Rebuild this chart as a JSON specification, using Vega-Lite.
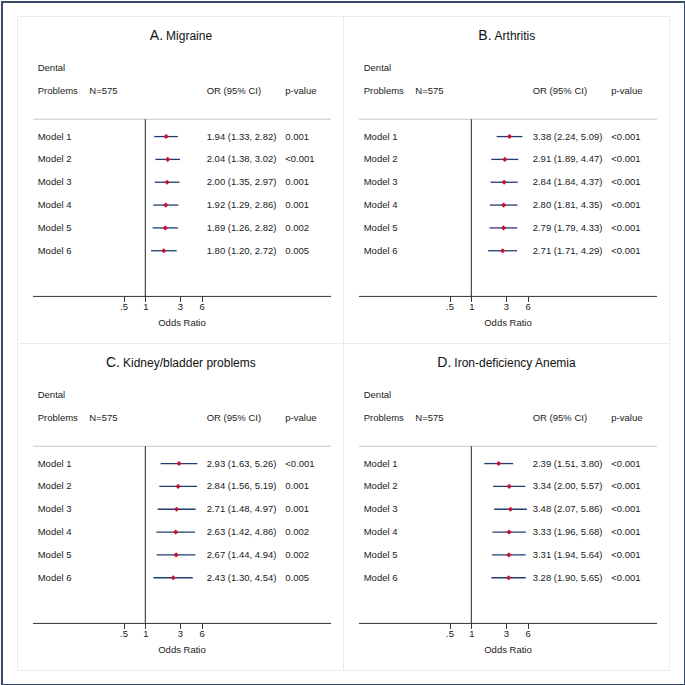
{
  "$schema": "https://vega.github.io/schema/vega-lite/v6.json",
  "padding": 0,
  "background": "white",
  "config": {
    "view": {"stroke": "#e2eef0", "strokeWidth": 1},
    "font": "Liberation Sans"
  },
  "datasets": {
    "hdr": [{"h1": "Dental", "h2": "Problems", "n": "N=575", "or": "OR (95% CI)", "p": "p-value"}],
    "A": [
      {"model": "Model 1", "row": 1, "or": 1.94, "lo": 1.33, "hi": 2.82, "ci": "1.94 (1.33, 2.82)", "p": "0.001"},
      {"model": "Model 2", "row": 2, "or": 2.04, "lo": 1.38, "hi": 3.02, "ci": "2.04 (1.38, 3.02)", "p": "<0.001"},
      {"model": "Model 3", "row": 3, "or": 2.00, "lo": 1.35, "hi": 2.97, "ci": "2.00 (1.35, 2.97)", "p": "0.001"},
      {"model": "Model 4", "row": 4, "or": 1.92, "lo": 1.29, "hi": 2.86, "ci": "1.92 (1.29, 2.86)", "p": "0.001"},
      {"model": "Model 5", "row": 5, "or": 1.89, "lo": 1.26, "hi": 2.82, "ci": "1.89 (1.26, 2.82)", "p": "0.002"},
      {"model": "Model 6", "row": 6, "or": 1.80, "lo": 1.20, "hi": 2.72, "ci": "1.80 (1.20, 2.72)", "p": "0.005"}
    ],
    "B": [
      {"model": "Model 1", "row": 1, "or": 3.38, "lo": 2.24, "hi": 5.09, "ci": "3.38 (2.24, 5.09)", "p": "<0.001"},
      {"model": "Model 2", "row": 2, "or": 2.91, "lo": 1.89, "hi": 4.47, "ci": "2.91 (1.89, 4.47)", "p": "<0.001"},
      {"model": "Model 3", "row": 3, "or": 2.84, "lo": 1.84, "hi": 4.37, "ci": "2.84 (1.84, 4.37)", "p": "<0.001"},
      {"model": "Model 4", "row": 4, "or": 2.80, "lo": 1.81, "hi": 4.35, "ci": "2.80 (1.81, 4.35)", "p": "<0.001"},
      {"model": "Model 5", "row": 5, "or": 2.79, "lo": 1.79, "hi": 4.33, "ci": "2.79 (1.79, 4.33)", "p": "<0.001"},
      {"model": "Model 6", "row": 6, "or": 2.71, "lo": 1.71, "hi": 4.29, "ci": "2.71 (1.71, 4.29)", "p": "<0.001"}
    ],
    "C": [
      {"model": "Model 1", "row": 1, "or": 2.93, "lo": 1.63, "hi": 5.26, "ci": "2.93 (1.63, 5.26)", "p": "<0.001"},
      {"model": "Model 2", "row": 2, "or": 2.84, "lo": 1.56, "hi": 5.19, "ci": "2.84 (1.56, 5.19)", "p": "0.001"},
      {"model": "Model 3", "row": 3, "or": 2.71, "lo": 1.48, "hi": 4.97, "ci": "2.71 (1.48, 4.97)", "p": "0.001"},
      {"model": "Model 4", "row": 4, "or": 2.63, "lo": 1.42, "hi": 4.86, "ci": "2.63 (1.42, 4.86)", "p": "0.002"},
      {"model": "Model 5", "row": 5, "or": 2.67, "lo": 1.44, "hi": 4.94, "ci": "2.67 (1.44, 4.94)", "p": "0.002"},
      {"model": "Model 6", "row": 6, "or": 2.43, "lo": 1.30, "hi": 4.54, "ci": "2.43 (1.30, 4.54)", "p": "0.005"}
    ],
    "D": [
      {"model": "Model 1", "row": 1, "or": 2.39, "lo": 1.51, "hi": 3.80, "ci": "2.39 (1.51, 3.80)", "p": "<0.001"},
      {"model": "Model 2", "row": 2, "or": 3.34, "lo": 2.00, "hi": 5.57, "ci": "3.34 (2.00, 5.57)", "p": "<0.001"},
      {"model": "Model 3", "row": 3, "or": 3.48, "lo": 2.07, "hi": 5.86, "ci": "3.48 (2.07, 5.86)", "p": "<0.001"},
      {"model": "Model 4", "row": 4, "or": 3.33, "lo": 1.96, "hi": 5.68, "ci": "3.33 (1.96, 5.68)", "p": "<0.001"},
      {"model": "Model 5", "row": 5, "or": 3.31, "lo": 1.94, "hi": 5.64, "ci": "3.31 (1.94, 5.64)", "p": "<0.001"},
      {"model": "Model 6", "row": 6, "or": 3.28, "lo": 1.90, "hi": 5.65, "ci": "3.28 (1.90, 5.65)", "p": "<0.001"}
    ]
  },
  "columns": 2,
  "spacing": 0,
  "bounds": "flush",
  "concat": [
    {
      "width": 326, "height": 327,
      "data": {"name": "A"},
      "layer": [
        {"mark": {"type": "rule", "color": "#1f3d6e", "strokeWidth": 1.3},
         "encoding": {
           "x": {"field": "lo", "type": "quantitative", "scale": {"type": "log", "domain": [0.01681, 542], "nice": false},
                 "axis": {"values": [0.5, 1, 3, 6], "labelExpr": "datum.value < 1 ? '.5' : format(datum.value, 'd')", "domain": false, "grid": false, "tickSize": 5, "tickColor": "#333", "labelFontSize": 9.5, "labelColor": "#1a1a1a", "labelPadding": 0.5, "title": "Odds Ratio", "titleFontSize": 9.5, "titleFontWeight": "normal", "titleColor": "#1a1a1a", "titlePadding": 6.5, "offset": -46.6, "labelFlush": false, "labelOverlap": false, "titleX": 164.5}},
           "x2": {"field": "hi"},
           "y": {"field": "row", "type": "quantitative", "scale": {"domain": [-4.28, 10.04], "reverse": true, "nice": false, "zero": false}, "axis": null}
         }},
        {"mark": {"type": "point", "shape": "diamond", "filled": true, "color": "#c8102e", "size": 26, "opacity": 1},
         "encoding": {"x": {"field": "or", "type": "quantitative"}, "y": {"field": "row", "type": "quantitative", "axis": null}}},
        {"mark": {"type": "text", "align": "left", "baseline": "middle", "fontSize": 9.5, "color": "#1a1a1a"},
         "encoding": {"x": {"datum": 0.0325}, "y": {"field": "row", "type": "quantitative", "axis": null}, "text": {"field": "model"}}},
        {"mark": {"type": "text", "align": "left", "baseline": "middle", "fontSize": 9.5, "color": "#1a1a1a"},
         "encoding": {"x": {"datum": 7.064}, "y": {"field": "row", "type": "quantitative", "axis": null}, "text": {"field": "ci"}}},
        {"mark": {"type": "text", "align": "left", "baseline": "middle", "fontSize": 9.5, "color": "#1a1a1a"},
         "encoding": {"x": {"datum": 86.31}, "y": {"field": "row", "type": "quantitative", "axis": null}, "text": {"field": "p"}}},
        {"data": {"name": "hdr"},
         "layer": [
           {"mark": {"type": "text", "align": "left", "baseline": "middle", "fontSize": 9.5, "color": "#1a1a1a"},
            "encoding": {"x": {"datum": 0.0325}, "y": {"datum": -2, "axis": null}, "text": {"field": "h1"}}},
           {"mark": {"type": "text", "align": "left", "baseline": "middle", "fontSize": 9.5, "color": "#1a1a1a"},
            "encoding": {"x": {"datum": 0.0325}, "y": {"datum": -1, "axis": null}, "text": {"field": "h2"}}},
           {"mark": {"type": "text", "align": "left", "baseline": "middle", "fontSize": 9.5, "color": "#1a1a1a"},
            "encoding": {"x": {"datum": 0.168}, "y": {"datum": -1, "axis": null}, "text": {"field": "n"}}},
           {"mark": {"type": "text", "align": "left", "baseline": "middle", "fontSize": 9.5, "color": "#1a1a1a"},
            "encoding": {"x": {"datum": 7.064}, "y": {"datum": -1, "axis": null}, "text": {"field": "or"}}},
           {"mark": {"type": "text", "align": "left", "baseline": "middle", "fontSize": 9.5, "color": "#1a1a1a"},
            "encoding": {"x": {"datum": 86.31}, "y": {"datum": -1, "axis": null}, "text": {"field": "p"}}},
           {"mark": {"type": "rule", "color": "#c8c8c8", "strokeWidth": 1},
            "encoding": {"x": {"datum": 0.02799}, "x2": {"datum": 369.9}, "y": {"datum": 0.24, "axis": null}}},
           {"mark": {"type": "rule", "color": "#333", "strokeWidth": 1},
            "encoding": {"x": {"datum": 0.02799}, "x2": {"datum": 369.9}, "y": {"datum": 8, "axis": null}}},
           {"mark": {"type": "rule", "color": "#222", "strokeWidth": 1},
            "encoding": {"x": {"datum": 1}, "y": {"datum": 0.24, "axis": null}, "y2": {"datum": 8}}},
           {"mark": {"type": "rect", "filled": false, "stroke": "#3b4a68", "strokeWidth": 2, "fill": "transparent"},
            "encoding": {"x": {"datum": 0.01042}, "x2": {"datum": 29088000}, "y": {"datum": -4.893, "axis": null}, "y2": {"datum": 25.02}}}
         ]},
        {"data": {"values": [{"letter": "A.", "name": "Migraine"}]},
         "layer": [
           {"mark": {"type": "text", "align": "right", "baseline": "alphabetic", "fontSize": 14, "color": "#111", "dx": -17.9},
            "encoding": {"x": {"datum": 3.116}, "y": {"datum": -3.25, "axis": null}, "text": {"field": "letter"}}},
           {"mark": {"type": "text", "align": "left", "baseline": "alphabetic", "fontSize": 12, "color": "#111", "dx": -14.9},
            "encoding": {"x": {"datum": 3.116}, "y": {"datum": -3.25, "axis": null}, "text": {"field": "name"}}}
         ]}
      ]
    },
    {
      "width": 326, "height": 327,
      "data": {"name": "B"},
      "layer": [
        {"mark": {"type": "rule", "color": "#1f3d6e", "strokeWidth": 1.3},
         "encoding": {
           "x": {"field": "lo", "type": "quantitative", "scale": {"type": "log", "domain": [0.01681, 542], "nice": false},
                 "axis": {"values": [0.5, 1, 3, 6], "labelExpr": "datum.value < 1 ? '.5' : format(datum.value, 'd')", "domain": false, "grid": false, "tickSize": 5, "tickColor": "#333", "labelFontSize": 9.5, "labelColor": "#1a1a1a", "labelPadding": 0.5, "title": "Odds Ratio", "titleFontSize": 9.5, "titleFontWeight": "normal", "titleColor": "#1a1a1a", "titlePadding": 6.5, "offset": -46.6, "labelFlush": false, "labelOverlap": false, "titleX": 164.5}},
           "x2": {"field": "hi"},
           "y": {"field": "row", "type": "quantitative", "scale": {"domain": [-4.28, 10.04], "reverse": true, "nice": false, "zero": false}, "axis": null}
         }},
        {"mark": {"type": "point", "shape": "diamond", "filled": true, "color": "#c8102e", "size": 26, "opacity": 1},
         "encoding": {"x": {"field": "or", "type": "quantitative"}, "y": {"field": "row", "type": "quantitative", "axis": null}}},
        {"mark": {"type": "text", "align": "left", "baseline": "middle", "fontSize": 9.5, "color": "#1a1a1a"},
         "encoding": {"x": {"datum": 0.0325}, "y": {"field": "row", "type": "quantitative", "axis": null}, "text": {"field": "model"}}},
        {"mark": {"type": "text", "align": "left", "baseline": "middle", "fontSize": 9.5, "color": "#1a1a1a"},
         "encoding": {"x": {"datum": 7.064}, "y": {"field": "row", "type": "quantitative", "axis": null}, "text": {"field": "ci"}}},
        {"mark": {"type": "text", "align": "left", "baseline": "middle", "fontSize": 9.5, "color": "#1a1a1a"},
         "encoding": {"x": {"datum": 86.31}, "y": {"field": "row", "type": "quantitative", "axis": null}, "text": {"field": "p"}}},
        {"data": {"name": "hdr"},
         "layer": [
           {"mark": {"type": "text", "align": "left", "baseline": "middle", "fontSize": 9.5, "color": "#1a1a1a"},
            "encoding": {"x": {"datum": 0.0325}, "y": {"datum": -2, "axis": null}, "text": {"field": "h1"}}},
           {"mark": {"type": "text", "align": "left", "baseline": "middle", "fontSize": 9.5, "color": "#1a1a1a"},
            "encoding": {"x": {"datum": 0.0325}, "y": {"datum": -1, "axis": null}, "text": {"field": "h2"}}},
           {"mark": {"type": "text", "align": "left", "baseline": "middle", "fontSize": 9.5, "color": "#1a1a1a"},
            "encoding": {"x": {"datum": 0.168}, "y": {"datum": -1, "axis": null}, "text": {"field": "n"}}},
           {"mark": {"type": "text", "align": "left", "baseline": "middle", "fontSize": 9.5, "color": "#1a1a1a"},
            "encoding": {"x": {"datum": 7.064}, "y": {"datum": -1, "axis": null}, "text": {"field": "or"}}},
           {"mark": {"type": "text", "align": "left", "baseline": "middle", "fontSize": 9.5, "color": "#1a1a1a"},
            "encoding": {"x": {"datum": 86.31}, "y": {"datum": -1, "axis": null}, "text": {"field": "p"}}},
           {"mark": {"type": "rule", "color": "#c8c8c8", "strokeWidth": 1},
            "encoding": {"x": {"datum": 0.02799}, "x2": {"datum": 369.9}, "y": {"datum": 0.24, "axis": null}}},
           {"mark": {"type": "rule", "color": "#333", "strokeWidth": 1},
            "encoding": {"x": {"datum": 0.02799}, "x2": {"datum": 369.9}, "y": {"datum": 8, "axis": null}}},
           {"mark": {"type": "rule", "color": "#222", "strokeWidth": 1},
            "encoding": {"x": {"datum": 1}, "y": {"datum": 0.24, "axis": null}, "y2": {"datum": 8}}}
         ]},
        {"data": {"values": [{"letter": "B.", "name": "Arthritis"}]},
         "layer": [
           {"mark": {"type": "text", "align": "right", "baseline": "alphabetic", "fontSize": 14, "color": "#111", "dx": -15.4},
            "encoding": {"x": {"datum": 3.116}, "y": {"datum": -3.25, "axis": null}, "text": {"field": "letter"}}},
           {"mark": {"type": "text", "align": "left", "baseline": "alphabetic", "fontSize": 12, "color": "#111", "dx": -12.4},
            "encoding": {"x": {"datum": 3.116}, "y": {"datum": -3.25, "axis": null}, "text": {"field": "name"}}}
         ]}
      ]
    },
    {
      "width": 326, "height": 327,
      "data": {"name": "C"},
      "layer": [
        {"mark": {"type": "rule", "color": "#1f3d6e", "strokeWidth": 1.3},
         "encoding": {
           "x": {"field": "lo", "type": "quantitative", "scale": {"type": "log", "domain": [0.01681, 542], "nice": false},
                 "axis": {"values": [0.5, 1, 3, 6], "labelExpr": "datum.value < 1 ? '.5' : format(datum.value, 'd')", "domain": false, "grid": false, "tickSize": 5, "tickColor": "#333", "labelFontSize": 9.5, "labelColor": "#1a1a1a", "labelPadding": 0.5, "title": "Odds Ratio", "titleFontSize": 9.5, "titleFontWeight": "normal", "titleColor": "#1a1a1a", "titlePadding": 6.5, "offset": -46.6, "labelFlush": false, "labelOverlap": false, "titleX": 164.5}},
           "x2": {"field": "hi"},
           "y": {"field": "row", "type": "quantitative", "scale": {"domain": [-4.28, 10.04], "reverse": true, "nice": false, "zero": false}, "axis": null}
         }},
        {"mark": {"type": "point", "shape": "diamond", "filled": true, "color": "#c8102e", "size": 26, "opacity": 1},
         "encoding": {"x": {"field": "or", "type": "quantitative"}, "y": {"field": "row", "type": "quantitative", "axis": null}}},
        {"mark": {"type": "text", "align": "left", "baseline": "middle", "fontSize": 9.5, "color": "#1a1a1a"},
         "encoding": {"x": {"datum": 0.0325}, "y": {"field": "row", "type": "quantitative", "axis": null}, "text": {"field": "model"}}},
        {"mark": {"type": "text", "align": "left", "baseline": "middle", "fontSize": 9.5, "color": "#1a1a1a"},
         "encoding": {"x": {"datum": 7.064}, "y": {"field": "row", "type": "quantitative", "axis": null}, "text": {"field": "ci"}}},
        {"mark": {"type": "text", "align": "left", "baseline": "middle", "fontSize": 9.5, "color": "#1a1a1a"},
         "encoding": {"x": {"datum": 86.31}, "y": {"field": "row", "type": "quantitative", "axis": null}, "text": {"field": "p"}}},
        {"data": {"name": "hdr"},
         "layer": [
           {"mark": {"type": "text", "align": "left", "baseline": "middle", "fontSize": 9.5, "color": "#1a1a1a"},
            "encoding": {"x": {"datum": 0.0325}, "y": {"datum": -2, "axis": null}, "text": {"field": "h1"}}},
           {"mark": {"type": "text", "align": "left", "baseline": "middle", "fontSize": 9.5, "color": "#1a1a1a"},
            "encoding": {"x": {"datum": 0.0325}, "y": {"datum": -1, "axis": null}, "text": {"field": "h2"}}},
           {"mark": {"type": "text", "align": "left", "baseline": "middle", "fontSize": 9.5, "color": "#1a1a1a"},
            "encoding": {"x": {"datum": 0.168}, "y": {"datum": -1, "axis": null}, "text": {"field": "n"}}},
           {"mark": {"type": "text", "align": "left", "baseline": "middle", "fontSize": 9.5, "color": "#1a1a1a"},
            "encoding": {"x": {"datum": 7.064}, "y": {"datum": -1, "axis": null}, "text": {"field": "or"}}},
           {"mark": {"type": "text", "align": "left", "baseline": "middle", "fontSize": 9.5, "color": "#1a1a1a"},
            "encoding": {"x": {"datum": 86.31}, "y": {"datum": -1, "axis": null}, "text": {"field": "p"}}},
           {"mark": {"type": "rule", "color": "#c8c8c8", "strokeWidth": 1},
            "encoding": {"x": {"datum": 0.02799}, "x2": {"datum": 369.9}, "y": {"datum": 0.24, "axis": null}}},
           {"mark": {"type": "rule", "color": "#333", "strokeWidth": 1},
            "encoding": {"x": {"datum": 0.02799}, "x2": {"datum": 369.9}, "y": {"datum": 8, "axis": null}}},
           {"mark": {"type": "rule", "color": "#222", "strokeWidth": 1},
            "encoding": {"x": {"datum": 1}, "y": {"datum": 0.24, "axis": null}, "y2": {"datum": 8}}}
         ]},
        {"data": {"values": [{"letter": "C.", "name": "Kidney/bladder problems"}]},
         "layer": [
           {"mark": {"type": "text", "align": "right", "baseline": "alphabetic", "fontSize": 14, "color": "#111", "dx": -61},
            "encoding": {"x": {"datum": 3.116}, "y": {"datum": -3.25, "axis": null}, "text": {"field": "letter"}}},
           {"mark": {"type": "text", "align": "left", "baseline": "alphabetic", "fontSize": 12, "color": "#111", "dx": -58},
            "encoding": {"x": {"datum": 3.116}, "y": {"datum": -3.25, "axis": null}, "text": {"field": "name"}}}
         ]}
      ]
    },
    {
      "width": 326, "height": 327,
      "data": {"name": "D"},
      "layer": [
        {"mark": {"type": "rule", "color": "#1f3d6e", "strokeWidth": 1.3},
         "encoding": {
           "x": {"field": "lo", "type": "quantitative", "scale": {"type": "log", "domain": [0.01681, 542], "nice": false},
                 "axis": {"values": [0.5, 1, 3, 6], "labelExpr": "datum.value < 1 ? '.5' : format(datum.value, 'd')", "domain": false, "grid": false, "tickSize": 5, "tickColor": "#333", "labelFontSize": 9.5, "labelColor": "#1a1a1a", "labelPadding": 0.5, "title": "Odds Ratio", "titleFontSize": 9.5, "titleFontWeight": "normal", "titleColor": "#1a1a1a", "titlePadding": 6.5, "offset": -46.6, "labelFlush": false, "labelOverlap": false, "titleX": 164.5}},
           "x2": {"field": "hi"},
           "y": {"field": "row", "type": "quantitative", "scale": {"domain": [-4.28, 10.04], "reverse": true, "nice": false, "zero": false}, "axis": null}
         }},
        {"mark": {"type": "point", "shape": "diamond", "filled": true, "color": "#c8102e", "size": 26, "opacity": 1},
         "encoding": {"x": {"field": "or", "type": "quantitative"}, "y": {"field": "row", "type": "quantitative", "axis": null}}},
        {"mark": {"type": "text", "align": "left", "baseline": "middle", "fontSize": 9.5, "color": "#1a1a1a"},
         "encoding": {"x": {"datum": 0.0325}, "y": {"field": "row", "type": "quantitative", "axis": null}, "text": {"field": "model"}}},
        {"mark": {"type": "text", "align": "left", "baseline": "middle", "fontSize": 9.5, "color": "#1a1a1a"},
         "encoding": {"x": {"datum": 7.064}, "y": {"field": "row", "type": "quantitative", "axis": null}, "text": {"field": "ci"}}},
        {"mark": {"type": "text", "align": "left", "baseline": "middle", "fontSize": 9.5, "color": "#1a1a1a"},
         "encoding": {"x": {"datum": 86.31}, "y": {"field": "row", "type": "quantitative", "axis": null}, "text": {"field": "p"}}},
        {"data": {"name": "hdr"},
         "layer": [
           {"mark": {"type": "text", "align": "left", "baseline": "middle", "fontSize": 9.5, "color": "#1a1a1a"},
            "encoding": {"x": {"datum": 0.0325}, "y": {"datum": -2, "axis": null}, "text": {"field": "h1"}}},
           {"mark": {"type": "text", "align": "left", "baseline": "middle", "fontSize": 9.5, "color": "#1a1a1a"},
            "encoding": {"x": {"datum": 0.0325}, "y": {"datum": -1, "axis": null}, "text": {"field": "h2"}}},
           {"mark": {"type": "text", "align": "left", "baseline": "middle", "fontSize": 9.5, "color": "#1a1a1a"},
            "encoding": {"x": {"datum": 0.168}, "y": {"datum": -1, "axis": null}, "text": {"field": "n"}}},
           {"mark": {"type": "text", "align": "left", "baseline": "middle", "fontSize": 9.5, "color": "#1a1a1a"},
            "encoding": {"x": {"datum": 7.064}, "y": {"datum": -1, "axis": null}, "text": {"field": "or"}}},
           {"mark": {"type": "text", "align": "left", "baseline": "middle", "fontSize": 9.5, "color": "#1a1a1a"},
            "encoding": {"x": {"datum": 86.31}, "y": {"datum": -1, "axis": null}, "text": {"field": "p"}}},
           {"mark": {"type": "rule", "color": "#c8c8c8", "strokeWidth": 1},
            "encoding": {"x": {"datum": 0.02799}, "x2": {"datum": 369.9}, "y": {"datum": 0.24, "axis": null}}},
           {"mark": {"type": "rule", "color": "#333", "strokeWidth": 1},
            "encoding": {"x": {"datum": 0.02799}, "x2": {"datum": 369.9}, "y": {"datum": 8, "axis": null}}},
           {"mark": {"type": "rule", "color": "#222", "strokeWidth": 1},
            "encoding": {"x": {"datum": 1}, "y": {"datum": 0.24, "axis": null}, "y2": {"datum": 8}}}
         ]},
        {"data": {"values": [{"letter": "D.", "name": "Iron-deficiency Anemia"}]},
         "layer": [
           {"mark": {"type": "text", "align": "right", "baseline": "alphabetic", "fontSize": 14, "color": "#111", "dx": -55.7},
            "encoding": {"x": {"datum": 3.116}, "y": {"datum": -3.25, "axis": null}, "text": {"field": "letter"}}},
           {"mark": {"type": "text", "align": "left", "baseline": "alphabetic", "fontSize": 12, "color": "#111", "dx": -52.7},
            "encoding": {"x": {"datum": 3.116}, "y": {"datum": -3.25, "axis": null}, "text": {"field": "name"}}}
         ]}
      ]
    }
  ]
}
